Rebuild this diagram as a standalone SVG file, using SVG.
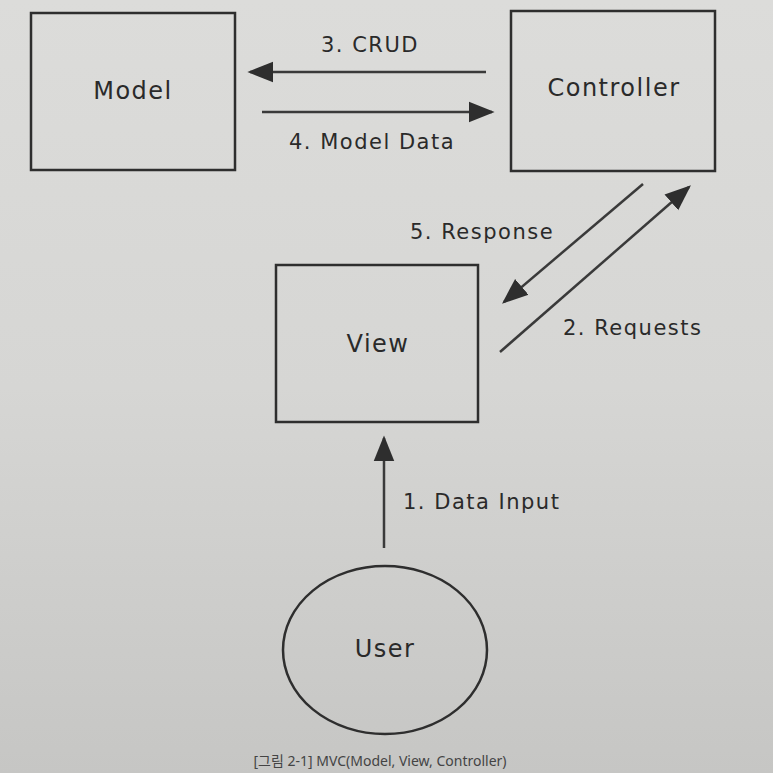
<svg xmlns="http://www.w3.org/2000/svg" width="773" height="773" viewBox="0 0 773 773">
  <defs>
    <linearGradient id="paper" x1="0" y1="0" x2="0" y2="1">
      <stop offset="0" stop-color="#dcdcda"/>
      <stop offset="0.5" stop-color="#d6d6d4"/>
      <stop offset="1" stop-color="#c6c6c4"/>
    </linearGradient>
    <marker id="arrL" viewBox="0 0 10 10" refX="9" refY="5" markerWidth="26" markerHeight="26" orient="auto" markerUnits="userSpaceOnUse">
      <path d="M0,1 L10,5 L0,9 z" fill="#2e2e2e"/>
    </marker>
  </defs>
  <style>
    .box { fill: none; stroke: #2e2e2e; stroke-width: 2.5; }
    .node-label { font-family: "DejaVu Sans", "Liberation Sans", sans-serif; font-size: 24px; letter-spacing: 1.5px; fill: #2a2a2a; text-anchor: middle; dominant-baseline: middle; }
    .edge { stroke: #3a3a3a; stroke-width: 2.5; fill: none; }
    .edge-label { font-family: "DejaVu Sans", "Liberation Sans", sans-serif; font-size: 21px; letter-spacing: 1.5px; fill: #2a2a2a; }
    .caption { font-family: "Noto Sans", "Noto Sans CJK KR", sans-serif; font-size: 14px; fill: #444; text-anchor: middle; }
  </style>
  <rect width="773" height="773" fill="url(#paper)"/>

  <g id="model">
    <rect class="box" x="31" y="13" width="204" height="157"/>
    <text class="node-label" x="133" y="92">Model</text>
  </g>
  <g id="controller">
    <rect class="box" x="511" y="11" width="204" height="160"/>
    <text class="node-label" x="614" y="89">Controller</text>
  </g>
  <g id="view">
    <rect class="box" x="276" y="265" width="202" height="157"/>
    <text class="node-label" x="378" y="345">View</text>
  </g>
  <g id="user">
    <ellipse class="box" cx="385" cy="650" rx="102" ry="84"/>
    <text class="node-label" x="385" y="650">User</text>
  </g>

  <g id="connectors">
    <line class="edge" x1="486" y1="72" x2="250" y2="72" marker-end="url(#arrL)"/>
    <text class="edge-label" x="370" y="52" text-anchor="middle">3. CRUD</text>
    <line class="edge" x1="262" y1="112" x2="492" y2="112" marker-end="url(#arrL)"/>
    <text class="edge-label" x="372" y="149" text-anchor="middle">4. Model Data</text>
    <line class="edge" x1="643" y1="184" x2="504" y2="302" marker-end="url(#arrL)"/>
    <text class="edge-label" x="410" y="239">5. Response</text>
    <line class="edge" x1="500" y1="352" x2="689" y2="187" marker-end="url(#arrL)"/>
    <text class="edge-label" x="563" y="335">2. Requests</text>
    <line class="edge" x1="384" y1="548" x2="384" y2="438" marker-end="url(#arrL)"/>
    <text class="edge-label" x="403" y="509">1. Data Input</text>
  </g>

  <text class="caption" x="380" y="766">[그림 2-1] MVC(Model, View, Controller)</text>
</svg>
